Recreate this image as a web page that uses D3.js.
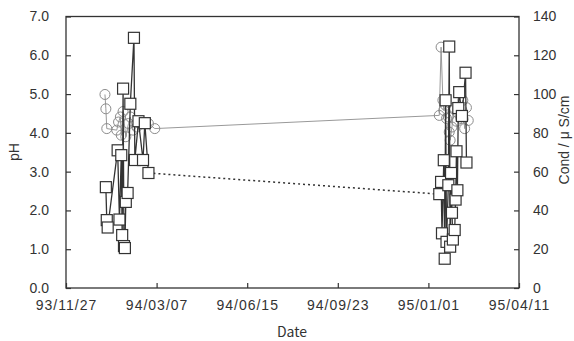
<!DOCTYPE html>
<html>
<head>
<meta charset="utf-8">
<script src="https://cdn.jsdelivr.net/npm/d3@7"></script>
<style>
  body { margin: 0; background: #fff; }
  svg { display: block; }
  text { font-family: "Liberation Sans", Arial, sans-serif; fill: #333; }
</style>
</head>
<body>
<figure id="chart" style="margin:0"></figure>
<script>
// x axis ticks (every 100 days)
const xTickLabels = ["93/11/27", "94/03/07", "94/06/15", "94/09/23", "95/01/01", "95/04/11"];
const phTicks = [0, 1, 2, 3, 4, 5, 6, 7];
const condTicks = [0, 20, 40, 60, 80, 100, 120, 140];

// pH (circles, left axis)
const phDates = [
  "94/01/09", "94/01/10", "94/01/11", "94/01/22", "94/01/24", "94/01/26", "94/01/27",
  "94/01/29", "94/02/01", "94/02/04", "94/02/06", "94/02/09", "94/02/13", "94/02/26", "94/03/05",
  "95/01/13", "95/01/15", "95/01/17", "95/01/18", "95/01/20", "95/01/21", "95/01/23", "95/01/24",
  "95/01/25", "95/01/27", "95/01/29", "95/02/01", "95/02/03", "95/02/06", "95/02/08", "95/02/10",
  "95/02/12", "95/02/14"
];
const phValues = [
  4.99, 4.62, 4.11, 4.07, 4.28, 4.41, 3.94,
  4.55, 3.90, 4.24, 4.41, 4.07, 4.15, 4.24, 4.11,
  4.45, 6.21, 4.84, 4.58, 4.71, 4.37, 4.41, 4.02,
  3.81, 4.15, 4.65, 4.30, 4.50, 4.37, 4.84, 4.11,
  4.65, 4.32
];

// conductivity uS/cm (squares, right axis)
const condDates = [
  "94/01/10", "94/01/11", "94/01/12", "94/01/23", "94/01/25", "94/01/27", "94/01/28",
  "94/01/29", "94/01/30", "94/01/31", "94/02/01", "94/02/03", "94/02/06", "94/02/10",
  "94/02/11", "94/02/15", "94/02/20", "94/02/22", "94/02/26",
  "95/01/13", "95/01/15", "95/01/16", "95/01/18", "95/01/19", "95/01/20", "95/01/21",
  "95/01/23", "95/01/24", "95/01/25", "95/01/26", "95/01/27", "95/01/28", "95/01/30",
  "95/01/31", "95/02/01", "95/02/02", "95/02/03", "95/02/04", "95/02/07", "95/02/11", "95/02/12"
];
const condValues = [
  52, 35, 31.2, 71, 35.3, 68.5, 27.3,
  102.8, 21.6, 20.6, 44.4, 49, 95, 129,
  66, 86, 66, 85, 59.3,
  48.4, 54.7, 28.2, 65.9, 15.1, 96.8, 23.8,
  53, 124.5, 21.3, 59.3, 38.8, 25, 29.9,
  45.6, 70.5, 50.4, 92.8, 101, 88.7, 111, 64.7
];

const W = 574, H = 341;
const mLeft = 66, mRight = 519, mTop = 16.5, mBottom = 288;
const parse = d3.utcParse("%y/%m/%d");

const svg = d3.select("#chart").append("svg")
  .attr("width", W).attr("height", H);

const xTicks = xTickLabels.map(parse);
const x = d3.scaleUtc().domain([xTicks[0], xTicks[xTicks.length - 1]]).range([mLeft, mRight]);
const yPh = d3.scaleLinear().domain([0, 7]).range([mBottom, mTop]);
const yCond = d3.scaleLinear().domain([0, 140]).range([mBottom, mTop]);

// frame
svg.append("rect")
  .attr("x", mLeft).attr("y", mTop)
  .attr("width", mRight - mLeft).attr("height", mBottom - mTop)
  .attr("fill", "none").attr("stroke", "#333").attr("stroke-width", 1.3);

// axes
const axX = svg.append("g").attr("transform", "translate(0," + mBottom + ")")
  .call(d3.axisTop(x).tickValues(xTicks).tickSize(5).tickFormat((d, i) => xTickLabels[i]));
axX.selectAll("text").attr("y", 22).style("font-size", "14px").style("letter-spacing", "1px");

const axL = svg.append("g").attr("transform", "translate(" + mLeft + ",0)")
  .call(d3.axisRight(yPh).tickValues(phTicks).tickSize(5).tickFormat(d3.format(".1f")));
axL.selectAll("text").attr("x", -17).attr("text-anchor", "end").style("font-size", "14px");

const axR = svg.append("g").attr("transform", "translate(" + mRight + ",0)")
  .call(d3.axisLeft(yCond).tickValues(condTicks).tickSize(5));
axR.selectAll("text").attr("x", 14).attr("text-anchor", "start").style("font-size", "14px");

[axX, axL, axR].forEach(a => {
  a.select(".domain").remove();
  a.selectAll("line").attr("stroke", "#333").attr("stroke-width", 1.2);
  a.selectAll("text").attr("fill", "#333").style("font-family", "'Liberation Sans', Arial, sans-serif");
});

// axis titles
svg.append("text").attr("transform", "translate(19,152) rotate(-90)")
  .attr("text-anchor", "middle").style("font-size", "14px").text("pH");
svg.append("text").attr("x", 292).attr("y", 337)
  .attr("text-anchor", "middle").style("font-size", "14px")
  .style("font-family", "'Noto Sans CJK JP', sans-serif").text("Date");
svg.append("text").attr("transform", "translate(569,140) rotate(-90)")
  .attr("text-anchor", "middle").style("font-size", "14px")
  .text("Cond / \u03bc S/cm");

// build points and split into campaigns where the gap is long
function toPoints(dates, values) {
  return dates.map((d, i) => ({ date: parse(d), v: values[i] }));
}
function splitGroups(pts) {
  const groups = [[pts[0]]];
  for (let i = 1; i < pts.length; i++) {
    if ((pts[i].date - pts[i - 1].date) / 864e5 > 100) groups.push([]);
    groups[groups.length - 1].push(pts[i]);
  }
  return groups;
}

const ph = toPoints(phDates, phValues);
const cond = toPoints(condDates, condValues);
const phGroups = splitGroups(ph);
const condGroups = splitGroups(cond);

const linePh = d3.line().x(d => x(d.date)).y(d => yPh(d.v));
const lineCond = d3.line().x(d => x(d.date)).y(d => yCond(d.v));

// pH: gray line and open circles
const gPh = svg.append("g");
gPh.selectAll("path.grp").data(phGroups).enter().append("path")
  .attr("d", linePh).attr("fill", "none").attr("stroke", "#999").attr("stroke-width", 1);
gPh.append("path")
  .attr("d", linePh([phGroups[0][phGroups[0].length - 1], phGroups[1][0]]))
  .attr("fill", "none").attr("stroke", "#999").attr("stroke-width", 1);
gPh.selectAll("circle").data(ph).enter().append("circle")
  .attr("cx", d => x(d.date)).attr("cy", d => yPh(d.v)).attr("r", 5)
  .attr("fill", "none").attr("stroke", "#8c8c8c").attr("stroke-width", 1);

// cond: dark line, dotted link between campaigns, white squares
const gC = svg.append("g");
gC.selectAll("path.grp").data(condGroups).enter().append("path")
  .attr("d", lineCond).attr("fill", "none").attr("stroke", "#333").attr("stroke-width", 1.3);
gC.append("path")
  .attr("d", lineCond([condGroups[0][condGroups[0].length - 1], condGroups[1][0]]))
  .attr("fill", "none").attr("stroke", "#333").attr("stroke-width", 1.5)
  .attr("stroke-dasharray", "2,3");
gC.selectAll("rect").data(cond).enter().append("rect")
  .attr("x", d => x(d.date) - 5.5).attr("y", d => yCond(d.v) - 5.5)
  .attr("width", 11).attr("height", 11)
  .attr("fill", "#fff").attr("stroke", "#333").attr("stroke-width", 1.2);
</script>
</body>
</html>
